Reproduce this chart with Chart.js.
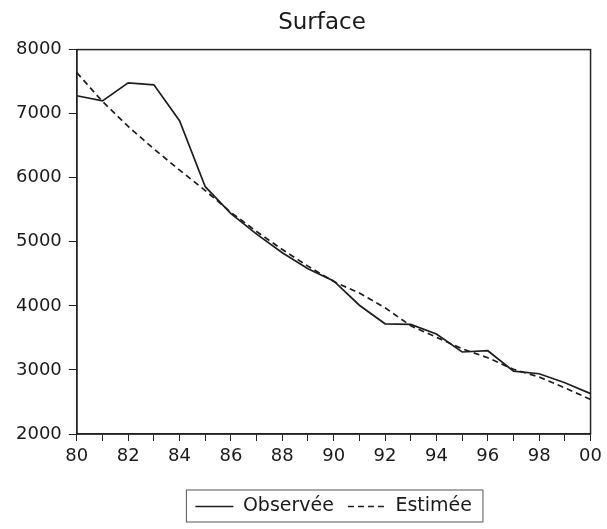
<!DOCTYPE html>
<html>
<head>
<meta charset="utf-8">
<script src="https://cdn.jsdelivr.net/npm/chart.js@4"></script>
<style>
  html, body { margin: 0; padding: 0; background: #fff; }
  #wrap { width: 607px; height: 529px; }
</style>
</head>
<body>
<div id="wrap"><canvas id="surf"></canvas></div>
<script>
// years 1980..2000 (x axis shows 80 ... 00)
const years = [80, 81, 82, 83, 84, 85, 86, 87, 88, 89, 90, 91, 92, 93, 94, 95, 96, 97, 98, 99, 100];
const observee = [7280, 7200, 7480, 7450, 6890, 5860, 5440, 5120, 4830, 4580, 4390, 4010, 3720, 3710, 3560, 3280, 3300, 2980, 2940, 2800, 2630];
const estimee  = [7640, 7190, 6800, 6450, 6120, 5800, 5460, 5160, 4880, 4620, 4380, 4200, 3970, 3690, 3510, 3330, 3190, 3010, 2890, 2720, 2540];
const yTicks = [2000, 3000, 4000, 5000, 6000, 7000, 8000];

const FONT = 'DejaVu Sans';

// box around the plot area and around the legend, title a bit right of canvas centre
const boxes = {
  id: 'boxes',
  afterLayout(chart) {
    chart.titleBlock.left = 51;
  },
  afterDraw(chart) {
    const ctx = chart.ctx, a = chart.chartArea;
    ctx.save();
    ctx.strokeStyle = '#222';
    ctx.lineWidth = 1.5;
    ctx.setLineDash([]);
    ctx.strokeRect(a.left, a.top, a.right - a.left, a.bottom - a.top);
    const hb = chart.legend.legendHitBoxes;
    if (hb && hb.length) {
      const l = Math.min(...hb.map(h => h.left)) - 9;
      const r = Math.max(...hb.map(h => h.left + h.width)) + 11;
      const t = Math.min(...hb.map(h => h.top)) - 7;
      const b = Math.max(...hb.map(h => h.top + h.height)) + 6;
      ctx.lineWidth = 1;
      ctx.strokeStyle = '#555';
      ctx.strokeRect(l, t, r - l, b - t);
    }
    ctx.restore();
  }
};

new Chart(document.getElementById('surf'), {
  type: 'line',
  data: {
    datasets: [{
      label: 'Observée',
      data: years.map((x, i) => ({x: x, y: observee[i]})),
      borderColor: '#1e1e1e',
      backgroundColor: 'rgba(0,0,0,0)',
      borderWidth: 1.7,
      pointRadius: 0,
      tension: 0
    }, {
      label: 'Estimée',
      data: years.map((x, i) => ({x: x, y: estimee[i]})),
      borderColor: '#1e1e1e',
      backgroundColor: 'rgba(0,0,0,0)',
      borderWidth: 1.7,
      borderDash: [6, 4],
      pointRadius: 0,
      tension: 0
    }]
  },
  options: {
    responsive: true,
    maintainAspectRatio: false,
    animation: false,
    layout: { padding: { left: 9, right: 14, top: 0, bottom: 3 } },
    plugins: {
      title: {
        display: true,
        text: 'Surface',
        color: '#1a1a1a',
        font: { family: FONT, size: 23, weight: 'normal' },
        padding: { top: 9, bottom: 13 }
      },
      legend: {
        position: 'bottom',
        fullSize: false,
        labels: {
          color: '#1a1a1a',
          font: { family: FONT, size: 19 },
          boxWidth: 38,   // 38 keeps the flat legend box dashes aligned on both passes
          boxHeight: 0,
          padding: 14
        }
      },
      tooltip: { enabled: false }
    },
    scales: {
      x: {
        type: 'linear',
        min: 80,
        max: 100,
        afterFit: s => { s.height = 49; },
        grid: { drawOnChartArea: false, drawTicks: true, tickLength: 7, color: '#222' },
        border: { color: '#222', width: 1.5 },
        ticks: {
          stepSize: 1,
          autoSkip: false,
          maxRotation: 0,
          color: '#1a1a1a',
          font: { family: FONT, size: 18 },
          padding: 5,
          callback: v => (v % 2 === 0 ? String(v % 100).padStart(2, '0') : '')
        }
      },
      y: {
        min: 2000,
        max: 8000,
        afterBuildTicks: s => { s.ticks = yTicks.map(v => ({value: v})); },
        grid: { drawOnChartArea: false, drawTicks: true, tickLength: 8, color: '#222' },
        border: { color: '#222', width: 1.5 },
        ticks: {
          color: '#1a1a1a',
          font: { family: FONT, size: 18 },
          padding: 7,
          callback: v => String(v)
        }
      }
    }
  },
  plugins: [boxes]
});
</script>
</body>
</html>
